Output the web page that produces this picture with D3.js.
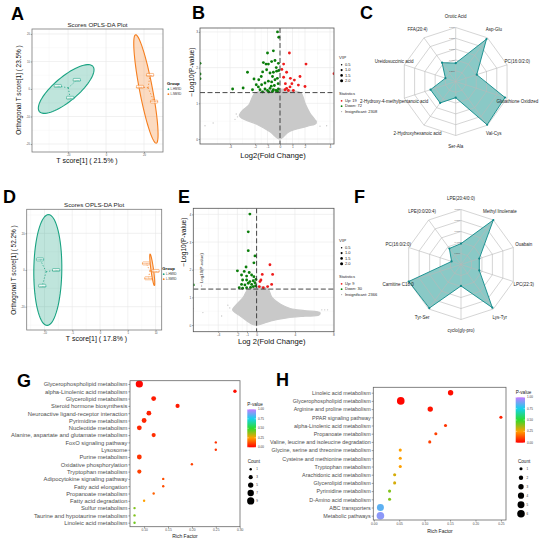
<!DOCTYPE html>
<html><head><meta charset="utf-8">
<script src="https://cdn.jsdelivr.net/npm/d3@7/dist/d3.min.js"></script>
<style>html,body{margin:0;padding:0;background:#fff}svg{display:block}</style>
</head><body>
<svg id="fig" width="550" height="544" xmlns="http://www.w3.org/2000/svg"></svg>
<script>
// ================= DATA =================
const groupNames = ["L-HMSD", "L-NMSD"];
// Panel A: OPLS-DA scores
const aSampleX = [-25.4, -15.4, -18.9, 23.2, 17.9, 25.3];
const aSampleY = [1.1, 3.3, -3.2, 5.1, 0.8, -4.6];
const aSampleGroup = [0, 0, 0, 1, 1, 1];
const aSampleName = ["HMSD1", "HMSD2", "HMSD3", "NMSD1", "NMSD2", "NMSD3"];
const aXTicks = [-20, 0, 20];
const aYTicks = [-20, -10, 0, 10, 20];
const aEllCenter = [[-21, 0], [21, 0]];
const aEllMajor = [[14.1, 8.2], [5.45, -19.7]];
const aEllMinor = [[4.05, -3.35], [3.37, 0.44]];
// Panel D: OPLS-DA scores
const dSampleX = [-10.8, -7.9, -10.4, 8.3, 10.0, 8.7];
const dSampleY = [5.8, 0, -8.6, 3.6, -0.5, -4.5];
const dSampleGroup = [0, 0, 0, 1, 1, 1];
const dSampleName = ["HMSD1", "HMSD2", "HMSD3", "NMSD1", "NMSD2", "NMSD3"];
const dXTicks = [-10, -5, 0, 5, 10];
const dYTicks = [-20, 0, 20];
const dEllCenter = [[-9.4, 0], [9.4, 0.1]];
const dEllMajor = [[0.12, 30.2], [0.39, -8.6]];
const dEllMinor = [[2.52, 0], [0.23, 0.1]];

// Panel B: volcano
const bXTicks = [-4, -2, -1, 0, 1, 2, 4];
const bYTicks = [0, 1, 2, 3];
const bDownX = [-0.2,-0.1,-1.0,-0.53,-1.33,-1.12,-0.93,-0.67,-0.4,-0.13,-2.6,-2.08,-1.7,-1.39,-1.07,-0.8,-0.53,-0.27,-0.1,-2.95,-3.79,-1.73,-1.47,-1.2,-0.93,-0.67,-0.4,-0.21,-1.6,-1.2,-1.0,-0.8,-0.53,-0.32,-0.13,-1.4,-0.9,-0.6,-0.2,-6.4,-6.4,-6.4,-0.3,-0.6,-1.5,-0.15,-0.45,-0.7,-1.9,-2.2];
const bDownY = [3.0,2.85,2.41,2.47,2.14,2.1,2.1,2.17,2.2,2.12,1.87,1.68,1.66,1.88,1.94,1.85,1.87,1.9,1.92,1.43,1.4,1.46,1.52,1.57,1.62,1.6,1.66,1.7,1.38,1.4,1.36,1.42,1.38,1.36,1.4,1.32,1.32,1.33,1.33,2.12,1.82,1.69,2.0,1.75,1.75,1.55,1.5,1.48,1.52,1.38];
const bUpX = [0.75,2.08,0.29,0.53,0.83,1.15,0.29,1.47,2.0,0.43,0.53,0.8,1.07,0.67,0.4,4.32,0.15,1.6,0.95];
const bUpY = [2.41,2.1,2.1,1.87,1.7,1.65,1.73,1.51,1.47,1.55,1.42,1.46,1.36,1.36,1.38,1.83,1.95,1.75,1.55];
const bCloudX = [0,-0.8,-1.9,-3.05,-3.25,-3.0,-2.5,-2.0,-1.0,0,0.9,1.7,2.0,2.4,2.9,2.2,0.7];
const bCloudY = [0,0.2,0.42,0.58,0.66,0.8,0.95,1.28,1.36,1.4,1.36,1.28,1.0,0.72,0.45,0.36,0.2];
const bGrayX = [-6.0,-5.35,-3.6,-3.4,3.2,3.73,2.9,-3.5];
const bGrayY = [0.37,0.45,0.55,0.62,0.36,0.37,0.5,0.7];
const bCounts = ["Up: 19", "Down: 72", "Insignificant: 2308"];

// Panel E: volcano
const eXTicks = [-4, -2, -1, 0, 4, 8];
const eYTicks = [0, 1, 2, 3, 4];
const eDownX = [-0.7,-0.87,-0.87,-0.17,-0.28,-2.0,-1.1,-1.29,-0.77,-1.57,-1.04,-0.52,-0.28,-1.46,-1.04,-0.7,-0.35,-0.07,-1.57,-1.22,-0.87,-0.52,-0.17,-1.81,-1.46,-1.04,-0.63,-0.35,-6.6,-0.1];
const eDownY = [4.01,3.37,2.69,2.5,2.25,1.96,2.1,1.94,1.9,1.81,1.77,1.81,1.75,1.63,1.63,1.57,1.6,1.65,1.47,1.45,1.51,1.47,1.53,1.35,1.33,1.35,1.36,1.39,1.45,1.42];
const eUpX = [1.39,1.67,0.59,0.35,0.45,0.28,0.7,1.15,1.57];
const eUpY = [2.18,1.83,1.83,1.57,1.63,1.39,1.35,1.39,1.47];
const eCloudX = [0,0.6,1.5,3.0,5.0,6.5,6.6,5.0,3.5,2.5,1.6,1.2,0.5,-0.3,-0.9,-1.4,-2.2,-2.5,-1.8,-1.0,-0.4];
const eCloudY = [0,0.05,0.15,0.25,0.32,0.36,0.45,0.52,0.6,0.75,1.0,1.3,1.38,1.38,1.3,1.0,0.7,0.55,0.35,0.15,0.02];
const eGrayX = [-3.0,-3.65,-5.6,6.8,7.1,7.4,-6.6,-2.8];
const eGrayY = [0.72,0.33,0.45,0.55,0.55,0.55,0.6,0.62];
const eCounts = ["Up: 9", "Down: 30", "Insignificant: 2366"];
const vipLevels = [0.5, 1.0, 1.5, 2.0];

// Panels C, F: radar
const ringLevels = [0.2, 0.4, 0.6, 0.8, 1.0];
const ringLabels = ["0.200", "0.400", "0.600", "0.800", "1.000"];
const cLabels = ["Orotic Acid","Asp-Glu","PC(16:0/2:0)","Glutathione Oxidized","Val-Cys","Ser-Ala","2-Hydroxyhexanoic acid","2-Hydroxy-4-methylpentanoic acid","Ureidosuccinic acid","FFA(20:4)"];
const cValues = [0.34, 0.97, 0.41, 0.96, 0.99, 0.30, 0.49, 0.49, 0.20, 0.43];
const fLabels = ["LPE(20:4/0:0)","Methyl linolenate","Ouabain","LPC(22:3)","Lys-Tyr","cyclo(gly-pro)","Tyr-Ser","Carnitine C18:0","PC(16:0/2:0)","LPE(0:0/20:4)"];
const fValues = [0.38, 1.0, 0.35, 0.35, 0.97, 0.39, 0.98, 1.0, 0.18, 0.36];

// Panel G: enrichment
const gPathways = ["Glycerophospholipid metabolism","alpha-Linolenic acid metabolism","Glycerolipid metabolism","Steroid hormone biosynthesis","Neuroactive ligand-receptor interaction","Pyrimidine metabolism","Nucleotide metabolism","Alanine, aspartate and glutamate metabolism","FoxO signaling pathway","Lysosome","Purine metabolism","Oxidative phosphorylation","Tryptophan metabolism","Adipocytokine signaling pathway","Fatty acid elongation","Propanoate metabolism","Fatty acid degradation","Sulfur metabolism","Taurine and hypotaurine metabolism","Linoleic acid metabolism"];
const gRich = [0.09,0.29,0.12,0.17,0.11,0.10,0.09,0.12,0.25,0.25,0.09,0.20,0.09,0.14,0.14,0.12,0.10,0.08,0.08,0.08];
const gCount = [9,2,4,3,4,4,4,3,1,1,4,1,3,1,1,1,1,1,1,1];
const gP = [0.01,0.02,0.04,0.04,0.05,0.06,0.06,0.07,0.08,0.08,0.08,0.1,0.1,0.12,0.12,0.15,0.25,0.4,0.4,0.42];
const gXTicks = [0.10, 0.15, 0.20, 0.25, 0.30];
const gCountLegend = [1, 3, 5, 7, 9];
// Panel H: enrichment
const hPathways = ["Linoleic acid metabolism","Glycerophospholipid metabolism","Arginine and proline metabolism","PPAR signaling pathway","alpha-Linolenic acid metabolism","Propanoate metabolism","Valine, leucine and isoleucine degradation","Glycine, serine and threonine metabolism","Cysteine and methionine metabolism","Tryptophan metabolism","Arachidonic acid metabolism","Glycerolipid metabolism","Pyrimidine metabolism","D-Amino acid metabolism","ABC transporters","Metabolic pathways"];
const hRich = [0.151,0.053,0.111,0.25,0.141,0.122,0.110,0.052,0.052,0.052,0.041,0.041,0.031,0.031,0.013,0.013];
const hCount = [3,6,3,1,1,1,1,1,1,1,1,1,1,1,5,6];
const hP = [0.02,0.01,0.03,0.05,0.08,0.1,0.1,0.25,0.25,0.25,0.3,0.3,0.4,0.4,0.85,0.92];
const hXTicks = [0.00, 0.05, 0.10, 0.15, 0.20, 0.25];
const hCountLegend = [1, 2, 3, 4, 5, 6];
const pTicks = [0.00, 0.25, 0.50, 0.75, 1.00];

// ================= DRAWING =================
const FAM = "'Liberation Sans', Arial, Helvetica, sans-serif";
const svg = d3.select("#fig").style("font-family", FAM);
const GRP_COL = ["#1aa382", "#f57f20"];
const GREEN = "#0a7d0a", RED = "#ee1c1c", GRAY = "#c9c9c9";
let clipId = 0;

function letter(t, x, y, size) {
  svg.append("text").attr("x", x).attr("y", y).attr("font-size", size || 18)
    .attr("font-weight", "bold").attr("fill", "#000").text(t);
}
function minorOf(t, dom) {
  const step = t[1] - t[0];
  const ext = [t[0] - step].concat(t, [t[t.length - 1] + step]);
  const m = [];
  for (let i = 1; i < ext.length; i++) m.push((ext[i] + ext[i - 1]) / 2);
  return m.filter(v => v > Math.min(...dom) && v < Math.max(...dom));
}
function gridFrame(g, x, y, xt, yt, box, opt) {
  g.append("rect").attr("x", box.x0).attr("y", box.y0).attr("width", box.x1 - box.x0)
    .attr("height", box.y1 - box.y0).attr("fill", "#fff");
  if (opt.minor) {
    minorOf(xt, x.domain()).forEach(v => g.append("line").attr("x1", x(v)).attr("x2", x(v))
      .attr("y1", box.y0).attr("y2", box.y1).attr("stroke", "#f3f3f3").attr("stroke-width", 0.4));
    minorOf(yt, y.domain()).forEach(v => g.append("line").attr("y1", y(v)).attr("y2", y(v))
      .attr("x1", box.x0).attr("x2", box.x1).attr("stroke", "#f3f3f3").attr("stroke-width", 0.4));
  }
  if (opt.major) {
    xt.forEach(v => g.append("line").attr("x1", x(v)).attr("x2", x(v))
      .attr("y1", box.y0).attr("y2", box.y1).attr("stroke", "#e8e8e8").attr("stroke-width", 0.6));
    yt.forEach(v => g.append("line").attr("y1", y(v)).attr("y2", y(v))
      .attr("x1", box.x0).attr("x2", box.x1).attr("stroke", "#e8e8e8").attr("stroke-width", 0.6));
  }
}
function frame(g, box, col) {
  g.append("rect").attr("x", box.x0).attr("y", box.y0).attr("width", box.x1 - box.x0)
    .attr("height", box.y1 - box.y0).attr("fill", "none").attr("stroke", col || "#666").attr("stroke-width", 0.8);
}
function axes(g, x, y, xt, yt, box, fs) {
  const ax = g.append("g").attr("transform", `translate(0,${box.y1})`)
    .call(d3.axisBottom(x).tickValues(xt).tickSize(1.3).tickPadding(0.6).tickFormat(d => d));
  const ay = g.append("g").attr("transform", `translate(${box.x0},0)`)
    .call(d3.axisLeft(y).tickValues(yt).tickSize(1.3).tickPadding(0.8).tickFormat(d => d));
  [ax, ay].forEach(a => {
    a.select(".domain").remove();
    a.selectAll("line").attr("stroke", "#555").attr("stroke-width", 0.5);
    a.selectAll("text").attr("font-size", fs).attr("fill", "#4d4d4d").attr("font-family", FAM);
  });
}
function clipFor(g, box) {
  const id = "clip" + (clipId++);
  g.append("clipPath").attr("id", id).append("rect").attr("x", box.x0).attr("y", box.y0)
    .attr("width", box.x1 - box.x0).attr("height", box.y1 - box.y0);
  return "url(#" + id + ")";
}

// ---------- OPLS-DA ----------
function opls(o) {
  const g = svg.append("g");
  const box = o.box;
  const x = d3.scaleLinear().domain(o.xDom).range([box.x0, box.x1]);
  const y = d3.scaleLinear().domain(o.yDom).range([box.y1, box.y0]);
  gridFrame(g, x, y, o.xTicks, o.yTicks, box, { major: true, minor: true });
  const inner = g.append("g").attr("clip-path", clipFor(g, box));
  const line = d3.line().x(d => x(d[0])).y(d => y(d[1]));
  [0, 1].forEach(k => {
    const pts = d3.range(73).map(i => {
      const t = i / 72 * 2 * Math.PI;
      return [o.ellC[k][0] + o.ellA[k][0] * Math.cos(t) + o.ellB[k][0] * Math.sin(t),
              o.ellC[k][1] + o.ellA[k][1] * Math.cos(t) + o.ellB[k][1] * Math.sin(t)];
    });
    inner.append("path").attr("d", line(pts)).attr("fill", GRP_COL[k]).attr("fill-opacity", 0.28)
      .attr("stroke", GRP_COL[k]).attr("stroke-width", 1.1);
  });
  [0, 1].forEach(k => {
    const idx = o.grp.map((v, i) => v === k ? i : -1).filter(i => i >= 0);
    const cx = d3.mean(idx, i => o.xs[i]), cy = d3.mean(idx, i => o.ys[i]);
    idx.forEach(i => inner.append("line").attr("x1", x(cx)).attr("y1", y(cy))
      .attr("x2", x(o.xs[i])).attr("y2", y(o.ys[i])).attr("stroke", GRP_COL[k])
      .attr("stroke-width", 0.8).attr("stroke-dasharray", "1.2,1.8"));
    idx.forEach(i => {
      const px = x(o.xs[i]), py = y(o.ys[i]);
      inner.append("rect").attr("x", px - 3.6).attr("y", py - 1.5).attr("width", 7.2).attr("height", 3)
        .attr("rx", 0.6).attr("fill", "#fff").attr("fill-opacity", 0.7).attr("stroke", GRP_COL[k]).attr("stroke-width", 0.5);
      inner.append("text").attr("x", px).attr("y", py + 0.8).attr("text-anchor", "middle")
        .attr("font-size", 2.2).attr("fill", GRP_COL[k]).text(o.names[i]);
    });
  });
  frame(g, box, "#7a7a7a");
  axes(g, x, y, o.xTicks, o.yTicks, box, 2.6);
  g.append("text").attr("x", (box.x0 + box.x1) / 2).attr("y", o.titleY).attr("text-anchor", "middle")
    .attr("font-size", 6.2).attr("fill", "#222").text("Scores OPLS-DA Plot");
  g.append("text").attr("x", o.xLab[0]).attr("y", o.xLab[1]).attr("text-anchor", "middle")
    .attr("font-size", 7).attr("fill", "#111").text(o.xTitle);
  g.append("text").attr("transform", `translate(${o.yLab[0]},${o.yLab[1]}) rotate(-90)`)
    .attr("text-anchor", "middle").attr("font-size", 6.4).attr("fill", "#111").text(o.yTitle);
  const L = o.leg;
  g.append("text").attr("x", L[0]).attr("y", L[1]).attr("font-size", 4.2).attr("font-weight", "bold").text("Group");
  groupNames.forEach((nm, k) => {
    const yy = L[1] + 5.2 + k * 5;
    g.append("circle").attr("cx", L[0] + 1.4).attr("cy", yy - 1).attr("r", 0.9).attr("fill", GRP_COL[k]);
    g.append("text").attr("x", L[0] + 3.6).attr("y", yy).attr("font-size", 2.8).attr("fill", "#333").text(nm);
  });
}

opls({ box: { x0: 32, x1: 163, y0: 29, y1: 152 }, xDom: [-39, 30], yDom: [-22.9, 21.8],
  xTicks: aXTicks, yTicks: aYTicks, xs: aSampleX, ys: aSampleY, grp: aSampleGroup, names: aSampleName,
  ellC: aEllCenter, ellA: aEllMajor, ellB: aEllMinor, titleY: 27, xLab: [87, 162.5], yLab: [21, 90],
  xTitle: "T score[1] ( 21.5% )", yTitle: "Orthogonal T score[1] ( 23.5% )", leg: [167, 85] });
opls({ box: { x0: 26.7, x1: 161.7, y0: 209.3, y1: 330 }, xDom: [-13.2, 11.1], yDom: [-32.7, 33.1],
  xTicks: dXTicks, yTicks: dYTicks, xs: dSampleX, ys: dSampleY, grp: dSampleGroup, names: dSampleName,
  ellC: dEllCenter, ellA: dEllMajor, ellB: dEllMinor, titleY: 207, xLab: [96.5, 341], yLab: [16, 270],
  xTitle: "T score[1] ( 17.8% )", yTitle: "Orthogonal T score[1] ( 52.2% )", leg: [162.3, 270] });

// ---------- Volcano ----------
function volcano(o) {
  const g = svg.append("g");
  const box = o.box;
  const x = d3.scaleLinear().domain(o.xDom).range([box.x0, box.x1]);
  const y = d3.scaleLinear().domain(o.yDom).range([box.y1, box.y0]);
  const r = d3.scaleSqrt().domain([0, 2]).range([0, 1.5]);
  gridFrame(g, x, y, o.xTicks, o.yTicks, box, { major: true, minor: true });
  const inner = g.append("g").attr("clip-path", clipFor(g, box));
  const cloud = o.cloudX.map((v, i) => [v, o.cloudY[i]]);
  inner.append("path").attr("d", d3.line().x(d => x(d[0])).y(d => y(d[1])).curve(d3.curveCatmullRomClosed)(cloud))
    .attr("fill", GRAY).attr("stroke", GRAY).attr("stroke-width", 1.2);
  o.grayX.forEach((v, i) => inner.append("circle").attr("cx", x(v)).attr("cy", y(o.grayY[i])).attr("r", 0.7).attr("fill", GRAY));
  o.downX.forEach((v, i) => inner.append("circle").attr("cx", x(v)).attr("cy", y(o.downY[i])).attr("r", r(1.8)).attr("fill", GREEN));
  o.upX.forEach((v, i) => inner.append("circle").attr("cx", x(v)).attr("cy", y(o.upY[i])).attr("r", r(1.8)).attr("fill", RED));
  inner.append("line").attr("x1", box.x0).attr("x2", box.x1).attr("y1", y(1.3)).attr("y2", y(1.3))
    .attr("stroke", "#333").attr("stroke-width", 0.9).attr("stroke-dasharray", "5,2.5");
  inner.append("line").attr("x1", x(0)).attr("x2", x(0)).attr("y1", box.y0).attr("y2", box.y1)
    .attr("stroke", "#333").attr("stroke-width", 0.9).attr("stroke-dasharray", "5,2.5");
  frame(g, box, "#555");
  axes(g, x, y, o.xTicks, o.yTicks, box, 3.2);
  g.append("text").attr("x", o.xLab[0]).attr("y", o.xLab[1]).attr("text-anchor", "middle")
    .attr("font-size", 7.6).attr("fill", "#111").text(o.xTitle);
  g.append("text").attr("transform", `translate(${o.yLab[0]},${o.yLab[1]}) rotate(-90)`)
    .attr("text-anchor", "middle").attr("font-size", 6.6).attr("fill", "#111").text("\u2212Log10(P-value)");
  const L = o.leg;
  g.append("text").attr("x", L[0]).attr("y", L[1]).attr("font-size", 4.4).attr("fill", "#222").text("VIP");
  vipLevels.forEach((v, i) => {
    const yy = L[1] + 7 + i * 5.3;
    g.append("circle").attr("cx", L[0] + 2.6).attr("cy", yy - 1.2).attr("r", r(v)).attr("fill", "#000");
    g.append("text").attr("x", L[0] + 6).attr("y", yy).attr("font-size", 4).attr("fill", "#222").text(v.toFixed(1));
  });
  g.append("text").attr("x", L[0]).attr("y", L[1] + 36).attr("font-size", 4).attr("fill", "#222").text("Statistics");
  [RED, GREEN, "#aaaaaa"].forEach((c, i) => {
    const yy = L[1] + 43 + i * 5.4;
    g.append("circle").attr("cx", L[0] + 2.6).attr("cy", yy - 1.2).attr("r", i < 2 ? 0.9 : 0.6).attr("fill", c);
    g.append("text").attr("x", L[0] + 6).attr("y", yy).attr("font-size", 4).attr("fill", "#222").text(o.counts[i]);
  });
}
volcano({ box: { x0: 200, x1: 334, y0: 28, y1: 144 }, xDom: [-6.4, 4.32], yDom: [-0.14, 3.11],
  xTicks: bXTicks, yTicks: bYTicks, downX: bDownX, downY: bDownY, upX: bUpX, upY: bUpY,
  cloudX: bCloudX, cloudY: bCloudY, grayX: bGrayX, grayY: bGrayY, counts: bCounts,
  xLab: [273, 158], xTitle: "Log2(Fold Change)", yLab: [193.5, 72], leg: [339, 59] });
volcano({ box: { x0: 193.3, x1: 334, y0: 208.3, y1: 331.7 }, xDom: [-6.6, 8.07], yDom: [-0.24, 4.22],
  xTicks: eXTicks, yTicks: eYTicks, downX: eDownX, downY: eDownY, upX: eUpX, upY: eUpY,
  cloudX: eCloudX, cloudY: eCloudY, grayX: eGrayX, grayY: eGrayY, counts: eCounts,
  xLab: [271.7, 343.5], xTitle: "Log 2(Fold Change)", yLab: [186, 242], leg: [339, 242] });
svg.append("text").attr("transform", "translate(202.5,270) rotate(-90)").attr("text-anchor", "middle")
  .attr("font-size", 4.4).attr("fill", "#333").text("\u2212 Log10(P-value)");

// ---------- Radar ----------
function radar(o) {
  const g = svg.append("g");
  const n = o.labels.length;
  const r = d3.scaleLinear().domain([0, 1]).range([0, o.R]);
  const pt = (i, v) => [o.cx + r(v) * Math.sin(i * 2 * Math.PI / n), o.cy - r(v) * Math.cos(i * 2 * Math.PI / n)];
  const ring = v => d3.range(n).map(i => pt(i, v));
  const closed = d3.line().curve(d3.curveLinearClosed);
  const poly = o.values.map((v, i) => pt(i, v));
  g.append("path").attr("d", closed(poly)).attr("fill", "#2a9c98").attr("fill-opacity", 0.55).attr("stroke", "none");
  ringLevels.forEach(v => g.append("path").attr("d", closed(ring(v))).attr("fill", "none")
    .attr("stroke", "#b8b8b8").attr("stroke-width", 0.6));
  d3.range(n).forEach(i => {
    const p = pt(i, 1);
    g.append("line").attr("x1", o.cx).attr("y1", o.cy).attr("x2", p[0]).attr("y2", p[1])
      .attr("stroke", "#b8b8b8").attr("stroke-width", 0.6);
  });
  g.append("path").attr("d", closed(poly)).attr("fill", "none").attr("stroke", "#0f8a8a").attr("stroke-width", 0.9);
  poly.forEach(p => g.append("circle").attr("cx", p[0]).attr("cy", p[1]).attr("r", 1.1).attr("fill", "#0f8a8a"));
  ringLevels.forEach((v, k) => {
    const p = pt(0, v);
    g.append("text").attr("x", p[0] - 1).attr("y", p[1] + 0.8).attr("text-anchor", "end")
      .attr("font-size", 2.2).attr("fill", "#555").text(ringLabels[k]);
  });
  o.labels.forEach((t, i) => {
    const p = pt(i, 1.2);
    g.append("text").attr("x", p[0]).attr("y", p[1] + 1.5).attr("text-anchor", "middle")
      .attr("font-size", 4.5).attr("fill", "#222").text(t);
  });
}
radar({ cx: 455.7, cy: 81.5, R: 54, labels: cLabels, values: cValues });
radar({ cx: 461, cy: 264.5, R: 55, labels: fLabels, values: fValues });

// ---------- Enrichment bubble ----------
const pColor = d3.scaleLinear().domain([0, 0.25, 0.5, 0.75, 1])
  .range(["#ff0000", "#ffa000", "#2edb2e", "#16d2ea", "#c47cff"]);
function bubble(o) {
  const g = svg.append("g");
  const box = o.box;
  const x = d3.scaleLinear().domain(o.xDom).range([box.x0, box.x1]);
  const y = d3.scalePoint().domain(o.cats).range(o.yRange);
  const r = d3.scaleSqrt().domain([0, o.maxCount]).range([0, o.maxR]);
  g.append("rect").attr("x", box.x0).attr("y", box.y0).attr("width", box.x1 - box.x0)
    .attr("height", box.y1 - box.y0).attr("fill", "#fff");
  o.cats.forEach((c, i) => g.append("circle").attr("cx", x(o.rich[i])).attr("cy", y(c))
    .attr("r", r(o.count[i])).attr("fill", pColor(o.p[i])));
  frame(g, box, "#666");
  const ax = g.append("g").attr("transform", `translate(0,${box.y1})`)
    .call(d3.axisBottom(x).tickValues(o.xTicks).tickSize(1.6).tickPadding(0.8).tickFormat(d3.format(".2f")));
  const ay = g.append("g").attr("transform", `translate(${box.x0},0)`)
    .call(d3.axisLeft(y).tickSize(1.6).tickPadding(1));
  ax.select(".domain").remove(); ay.select(".domain").remove();
  ax.selectAll("line").attr("stroke", "#444").attr("stroke-width", 0.5);
  ay.selectAll("line").attr("stroke", "#444").attr("stroke-width", 0.5);
  ax.selectAll("text").attr("font-size", 3.3).attr("fill", "#4d4d4d").attr("font-family", FAM);
  ay.selectAll("text").attr("font-size", o.labFs).attr("fill", "#4d4d4d").attr("font-family", FAM);
  g.append("text").attr("x", o.xLab[0]).attr("y", o.xLab[1]).attr("text-anchor", "middle")
    .attr("font-size", 5).attr("fill", "#222").text("Rich Factor");
  const cb = o.cbar;
  const gid = "grad" + (clipId++);
  const grad = g.append("defs").append("linearGradient").attr("id", gid)
    .attr("x1", 0).attr("y1", 1).attr("x2", 0).attr("y2", 0);
  pColor.domain().forEach(d => grad.append("stop").attr("offset", d).attr("stop-color", pColor(d)));
  g.append("text").attr("x", cb.x).attr("y", cb.y0 - 3).attr("font-size", 4.6).attr("fill", "#222").text("P-value");
  g.append("rect").attr("x", cb.x).attr("y", cb.y0).attr("width", cb.w).attr("height", cb.y1 - cb.y0).attr("fill", `url(#${gid})`);
  const py = d3.scaleLinear().domain([0, 1]).range([cb.y1, cb.y0]);
  pTicks.forEach(v => {
    g.append("line").attr("x1", cb.x).attr("x2", cb.x + 1.5).attr("y1", py(v)).attr("y2", py(v)).attr("stroke", "#fff").attr("stroke-width", 0.4);
    g.append("line").attr("x1", cb.x + cb.w - 1.5).attr("x2", cb.x + cb.w).attr("y1", py(v)).attr("y2", py(v)).attr("stroke", "#fff").attr("stroke-width", 0.4);
    g.append("text").attr("x", cb.x + cb.w + 2).attr("y", py(v) + 1.1).attr("font-size", 3).attr("fill", "#333").text(v.toFixed(2));
  });
  const sl = o.sizeLeg;
  g.append("text").attr("x", sl.x - 3).attr("y", sl.y0 - 6).attr("font-size", 4.6).attr("fill", "#222").text("Count");
  o.legCounts.forEach((c, i) => {
    const yy = sl.y0 + i * sl.dy;
    g.append("circle").attr("cx", sl.x).attr("cy", yy).attr("r", r(c)).attr("fill", "#000");
    g.append("text").attr("x", sl.x + 5.5).attr("y", yy + 1.1).attr("font-size", 3).attr("fill", "#333").text(c);
  });
}
bubble({ box: { x0: 130, x1: 240, y0: 380.7, y1: 526.7 }, xDom: [0.0705, 0.3006], cats: gPathways,
  yRange: [384, 522.7], rich: gRich, count: gCount, p: gP, xTicks: gXTicks, maxCount: 9, maxR: 3.6,
  labFs: 5.8, xLab: [185, 538], cbar: { x: 247.3, w: 8.7, y0: 409.3, y1: 447.3 },
  sizeLeg: { x: 250.7, y0: 469.3, dy: 7.9 }, legCounts: gCountLegend });
bubble({ box: { x0: 373.3, x1: 506, y0: 387.3, y1: 520 }, xDom: [-0.001, 0.26], cats: hPathways,
  yRange: [392.7, 515.7], rich: hRich, count: hCount, p: hP, xTicks: hXTicks, maxCount: 6, maxR: 3.8,
  labFs: 5.4, xLab: [440, 533], cbar: { x: 515.7, w: 9.3, y0: 397.3, y1: 442.7 },
  sizeLeg: { x: 521, y0: 468.7, dy: 9 }, legCounts: hCountLegend });

// ---------- Panel letters ----------
letter("A", 11, 20); letter("B", 192, 19); letter("C", 360, 19);
letter("D", 3, 203); letter("E", 178, 203); letter("F", 354, 203);
letter("G", 17, 387); letter("H", 276, 386);
</script>
</body></html>
